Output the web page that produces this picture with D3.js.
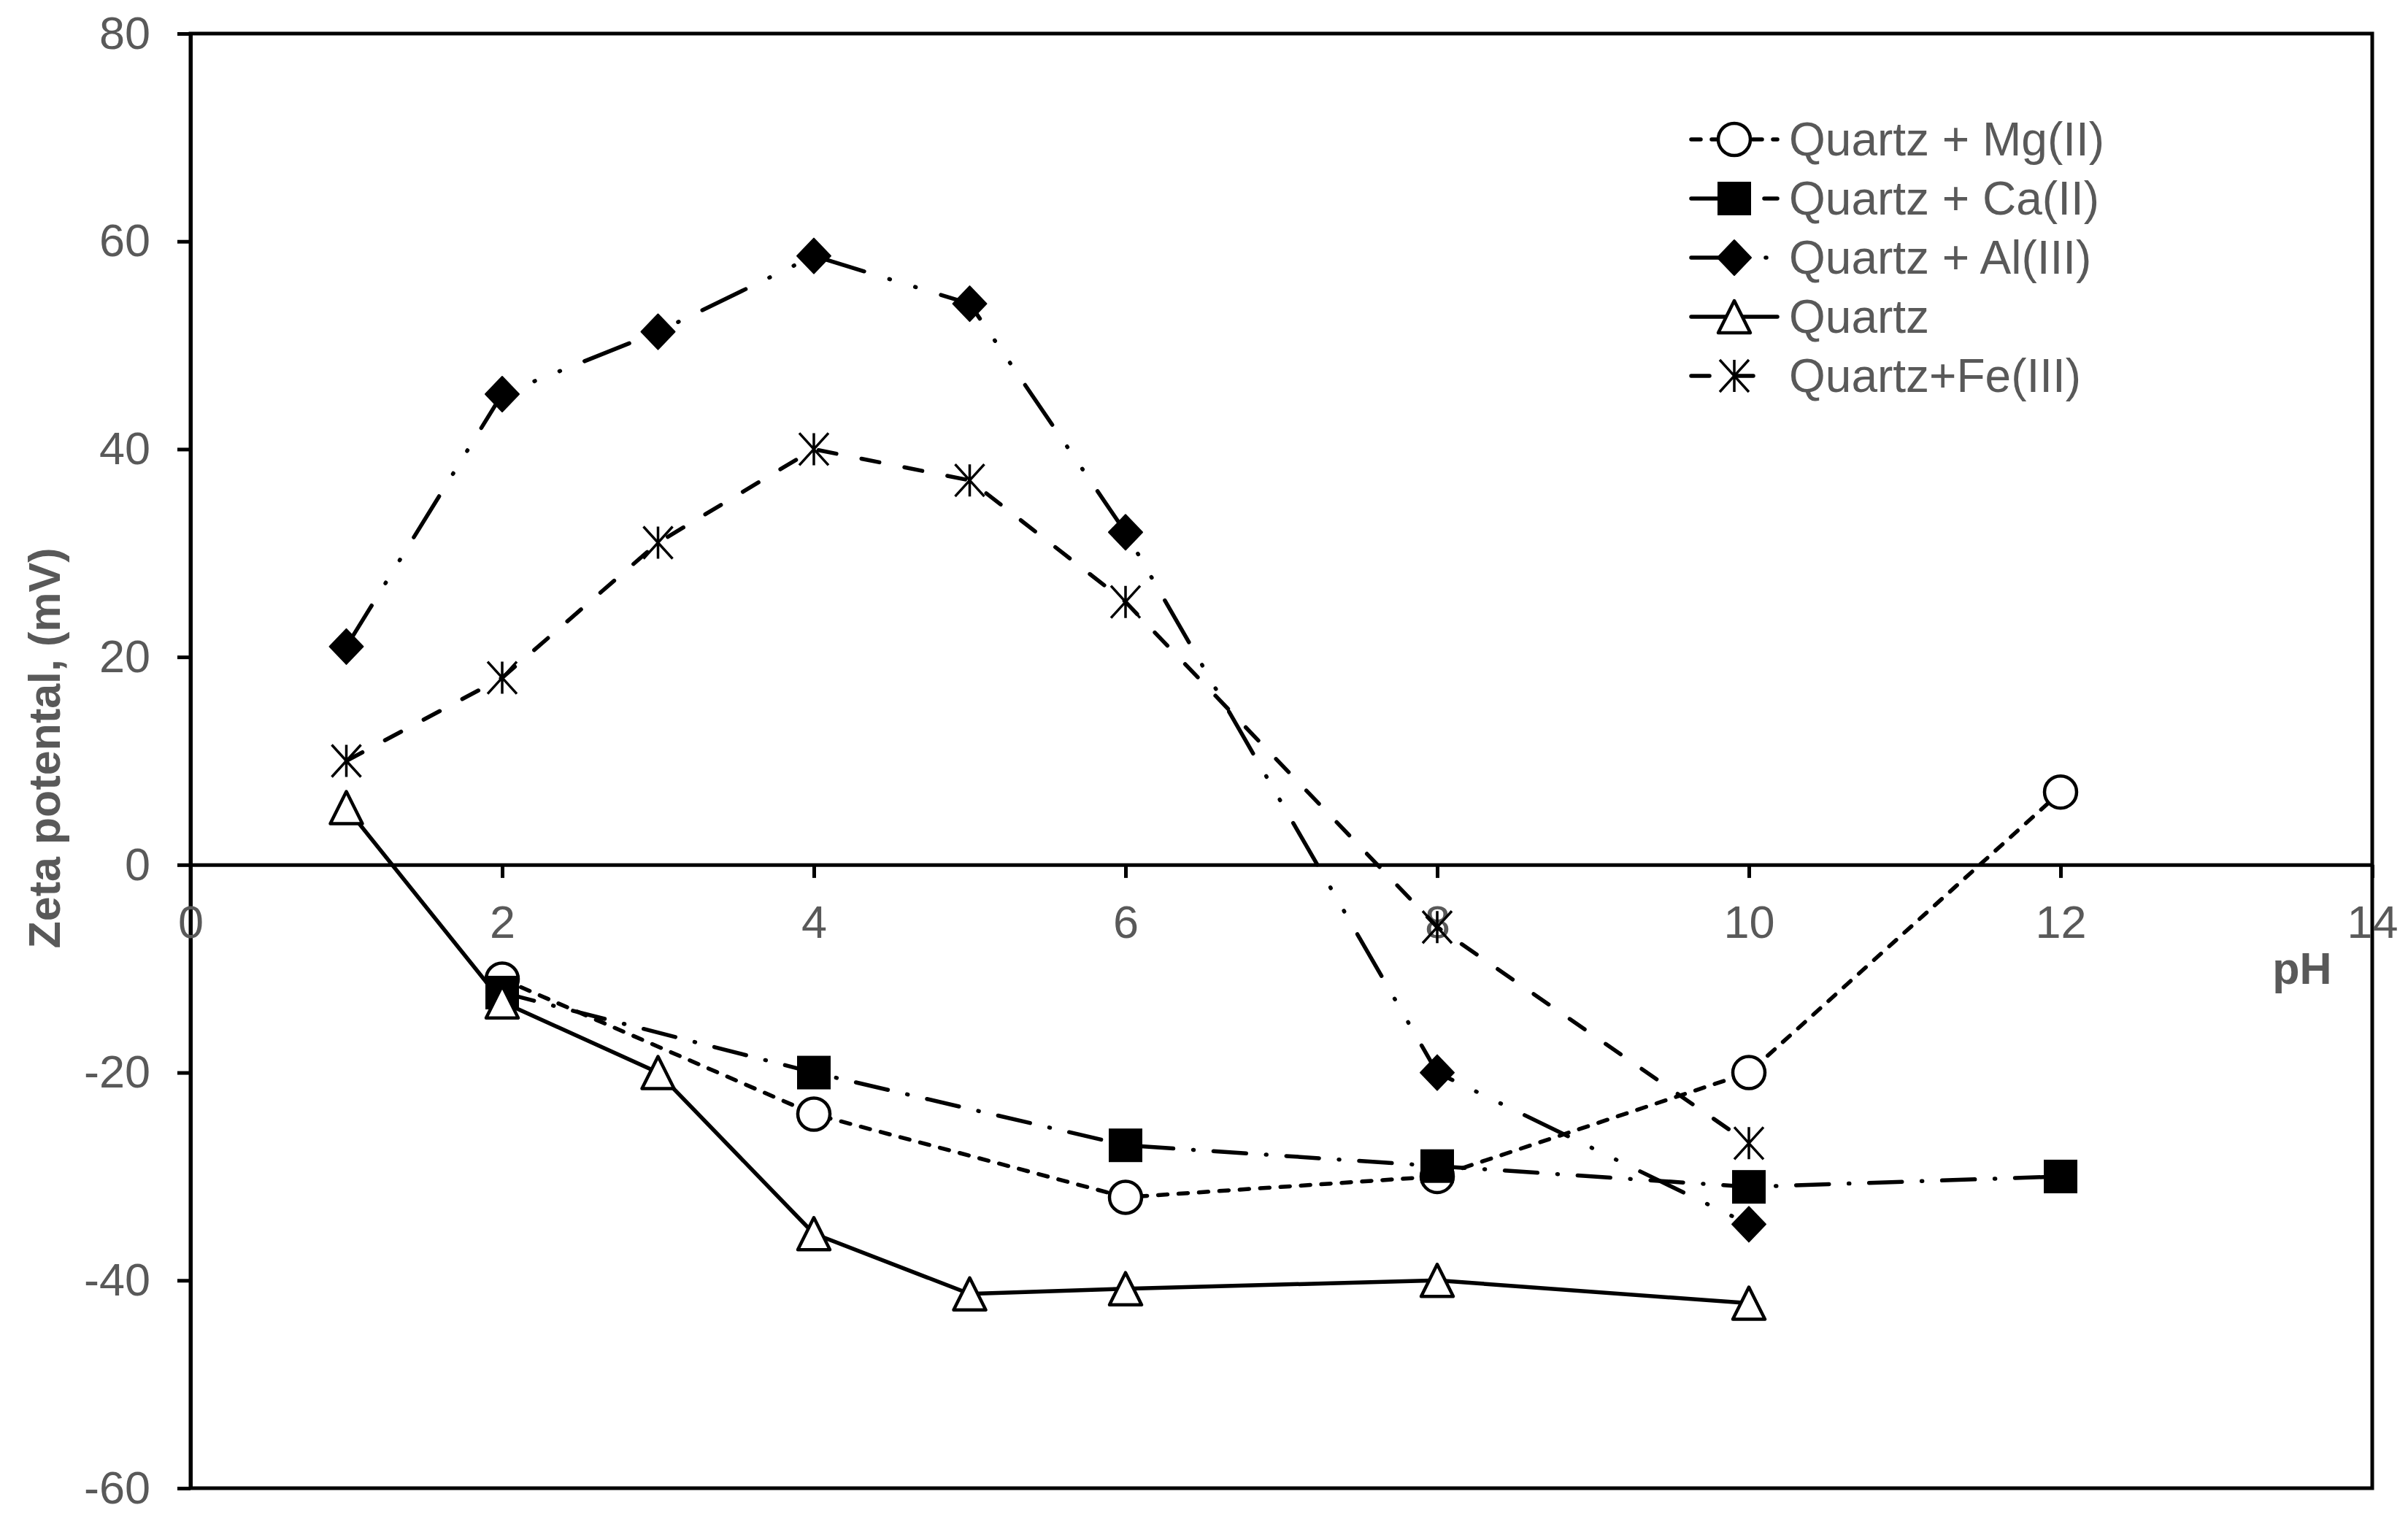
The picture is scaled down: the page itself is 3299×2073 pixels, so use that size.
<!DOCTYPE html>
<html>
<head>
<meta charset="utf-8">
<script src="https://cdn.jsdelivr.net/npm/d3@7/dist/d3.min.js"></script>
<style>
	body { margin: 0; background: #fff; }
	text { font-family: Arial, "Liberation Sans", sans-serif; fill: #595959; }
</style>
</head>
<body>
<div id="chart-area"></div>
<script>

// Data
let seriesNames = ["Quartz + Mg(II)", "Quartz + Ca(II)", "Quartz + Al(III)", "Quartz", "Quartz+Fe(III)"];

let phMg = [2, 4, 6, 8, 10, 12];
let zetaMg = [-11, -24, -32, -30, -20, 7];

let phCa = [2, 4, 6, 8, 10, 12];
let zetaCa = [-12.3, -20, -27, -29, -31, -30];

let phAl = [1, 2, 3, 4, 5, 6, 8, 10];
let zetaAl = [21, 45.3, 51.3, 58.6, 54, 32, -20, -34.6];

let phQuartz = [1, 2, 3, 4, 5, 6, 8, 10];
let zetaQuartz = [5.5, -13.2, -20, -35.5, -41.3, -40.8, -40, -42.2];

let phFe = [1, 2, 3, 4, 5, 6, 8, 10];
let zetaFe = [10, 18, 31, 40, 37, 25.3, -6, -26.8];

let xTicks = [0, 2, 4, 6, 8, 10, 12, 14];
let yTicks = [-60, -40, -20, 0, 20, 40, 60, 80];

// SVG Size
let margin = {top: 46, right: 49, bottom: 34, left: 261};
let width = 3299 - margin.left - margin.right;
let height = 2073 - margin.top - margin.bottom;

let svg = d3.select("#chart-area")
	.append("svg")
	.attr("width", width + margin.left + margin.right)
	.attr("height", height + margin.top + margin.bottom)
	.append("g")
	.attr("transform", "translate(" + margin.left + "," + margin.top + ")");

/** Scales */
let x = d3.scaleLinear().domain([0, 14]).range([0, width]);
let y = d3.scaleLinear().domain([-60, 80]).range([height, 0]);

function pairs(ph, zeta) {
	return ph.map(function(d, i) { return {ph: d, zeta: zeta[i]}; });
}

let series = [
	{name: seriesNames[0], values: pairs(phMg, zetaMg), dash: "13,15", marker: "circle"},
	{name: seriesNames[1], values: pairs(phCa, zetaCa), dash: "45,27,1,27", marker: "square"},
	{name: seriesNames[2], values: pairs(phAl, zetaAl), dash: "66,36,1,36,1,36", marker: "diamond"},
	{name: seriesNames[3], values: pairs(phQuartz, zetaQuartz), dash: null, marker: "triangle"},
	{name: seriesNames[4], values: pairs(phFe, zetaFe), dash: "25,35", marker: "star"}
];

/** Plot frame */
svg.append("rect")
	.attr("x", 0)
	.attr("y", 0)
	.attr("width", width)
	.attr("height", height)
	.attr("fill", "none")
	.attr("stroke", "black")
	.attr("stroke-width", 5);

/** Axes */
// plain hyphen for negatives, like the original
let plain = function(d) { return String(d); };

let yAxis = d3.axisLeft(y)
	.tickValues(yTicks)
	.tickFormat(plain)
	.tickSize(18)
	.tickSizeOuter(0)
	.tickPadding(37);

let yG = svg.append("g")
	.attr("class", "axis yAxis")
	.call(yAxis);

let xAxis = d3.axisBottom(x)
	.tickValues(xTicks)
	.tickFormat(plain)
	.tickSize(18)
	.tickSizeOuter(0)
	.tickPadding(37);

let xG = svg.append("g")
	.attr("class", "axis xAxis")
	.attr("transform", "translate(0," + y(0) + ")")
	.call(xAxis);

[xG, yG].forEach(function(g) {
	g.select(".domain").attr("stroke", "black").attr("stroke-width", 5);
	g.selectAll(".tick line").attr("stroke", "black").attr("stroke-width", 5);
	g.selectAll(".tick text")
		.attr("fill", "#595959")
		.style("font-family", "Arial, 'Liberation Sans', sans-serif")
		.style("font-size", "63px");
});

/** Axis titles */
svg.append("text")
	.attr("transform", "translate(" + (82 - margin.left) + "," + (1025 - margin.top) + ") rotate(-90)")
	.attr("text-anchor", "middle")
	.style("font-size", "61px")
	.style("font-weight", "bold")
	.text("Zeta potental, (mV)");

svg.append("text")
	.attr("x", 3154 - margin.left)
	.attr("y", 1348 - margin.top)
	.attr("text-anchor", "middle")
	.style("font-size", "61px")
	.style("font-weight", "bold")
	.text("pH");

/** Markers */
function drawMarker(g, type) {
	if (type === "circle") {
		g.append("circle").attr("r", 22)
			.attr("fill", "white").attr("stroke", "black").attr("stroke-width", 4.5);
	} else if (type === "square") {
		g.append("rect").attr("x", -22).attr("y", -22).attr("width", 44).attr("height", 44)
			.attr("fill", "black").attr("stroke", "black").attr("stroke-width", 2);
	} else if (type === "diamond") {
		g.append("path").attr("d", "M0,-24L23,0L0,24L-23,0Z")
			.attr("fill", "black").attr("stroke", "black").attr("stroke-width", 2)
			.attr("stroke-linejoin", "round");
	} else if (type === "triangle") {
		g.append("path").attr("d", "M0,-22L22,22L-22,22Z")
			.attr("fill", "white").attr("stroke", "black").attr("stroke-width", 4.5)
			.attr("stroke-linejoin", "round");
	} else if (type === "star") {
		g.append("path").attr("d", "M0,-22L0,22M-20,-22L20,22M20,-22L-20,22")
			.attr("fill", "none").attr("stroke", "black").attr("stroke-width", 3.5);
	}
}

let line = d3.line()
	.x(function(d) { return x(d.ph); })
	.y(function(d) { return y(d.zeta); });

/** Lines and points */
series.forEach(function(s) {
	let g = svg.append("g").attr("class", "series");

	g.append("path")
		.datum(s.values)
		.attr("d", line)
		.attr("fill", "none")
		.attr("stroke", "black")
		.attr("stroke-width", 5.5)
		.attr("stroke-linecap", "round")
		.attr("stroke-linejoin", "round")
		.attr("stroke-dasharray", s.dash);

	g.selectAll(".pt")
		.data(s.values)
		.enter()
		.append("g")
		.attr("class", "pt")
		.attr("transform", function(d) {
			return "translate(" + x(d.ph) + "," + y(d.zeta) + ")";
		})
		.each(function() { drawMarker(d3.select(this), s.marker); });
});

/** Legend */
let legend = svg.append("g")
	.attr("transform", "translate(" + (2317 - margin.left) + "," + (191 - margin.top) + ")");

series.forEach(function(s, i) {
	let row = legend.append("g").attr("transform", "translate(0," + (i * 81) + ")");
	row.append("line")
		.attr("x1", 0).attr("x2", 118)
		.attr("y1", 0).attr("y2", 0)
		.attr("stroke", "black")
		.attr("stroke-width", 5.5)
		.attr("stroke-linecap", "round")
		.attr("stroke-dasharray", s.dash);
	drawMarker(row.append("g").attr("transform", "translate(59,0)"), s.marker);
	row.append("text")
		.attr("x", 134)
		.attr("y", 22)
		.style("font-size", "64px")
		.text(s.name);
});

</script>
</body>
</html>
